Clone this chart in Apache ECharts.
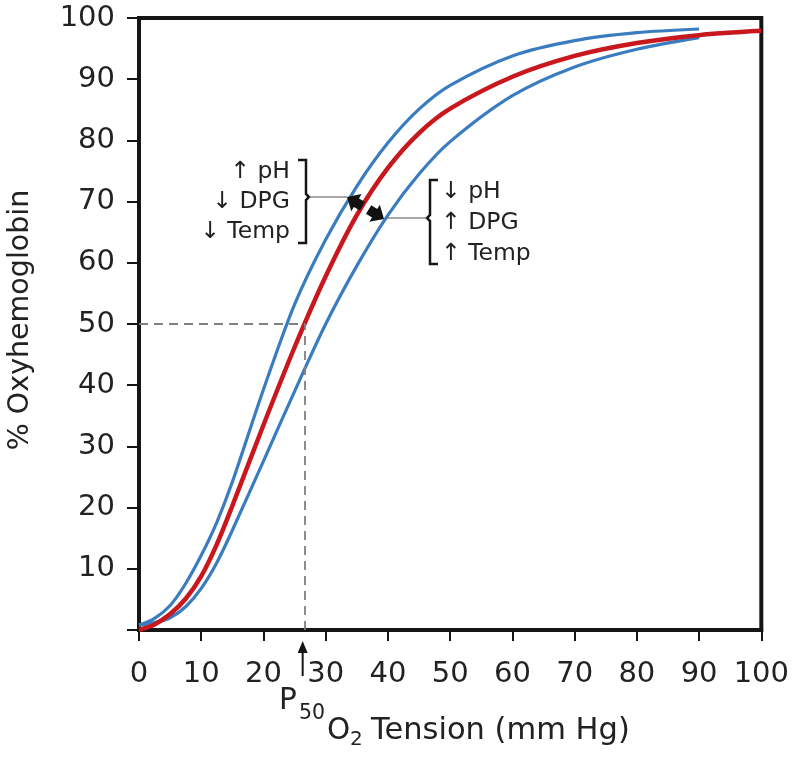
<!DOCTYPE html>
<html><head><meta charset="utf-8">
<script src="https://cdn.jsdelivr.net/npm/echarts@6/dist/echarts.min.js"></script>
<style>html,body{margin:0;padding:0;background:#fff}#c{width:792px;height:758px}</style>
</head><body><div id="c"></div>
<script>
// ---- data ----
const pO2Normal      = [0, 2.5, 5, 7.5, 10, 12.5, 15, 20, 25, 30, 35, 40, 45, 50, 60, 70, 80, 90, 100];
const satNormal      = [0, 0.9, 2.6, 5.1, 8.8, 14, 20.3, 33.5, 46.2, 57.8, 67.8, 75.5, 81.2, 85.2, 90.4, 93.8, 95.9, 97.2, 97.9];
const pO2Shifted     = [0, 2.5, 5, 7.5, 10, 12.5, 15, 20, 25, 30, 35, 40, 45, 50, 60, 70, 80, 90];
const satLeftShift   = [0.8, 1.9, 4.0, 7.6, 12.2, 17.6, 24.2, 39.3, 53.2, 63.8, 72.5, 79.6, 85.1, 89, 93.8, 96.3, 97.6, 98.2];
const satRightShift  = [0.8, 1.2, 2.0, 3.8, 6.8, 11, 16.3, 27.6, 39, 50, 59.5, 67.8, 74.5, 79.8, 87.3, 92.0, 94.9, 96.8];
const p50 = 26.7, halfSat = 50;
const xTickLabels = ['0','10','20','30','40','50','60','70','80','90','100'];
const yTickLabels = ['','10','20','30','40','50','60','70','80','90','100'];
const leftNotes  = ['\u2191 pH', '\u2193 DPG', '\u2193 Temp'];
const rightNotes = ['\u2193 pH', '\u2191 DPG', '\u2191 Temp'];

const FONT = '"DejaVu Sans", "Liberation Sans", Arial, sans-serif';
const pair = (xs, ys) => xs.map((x, i) => [x, ys[i]]);

const chart = echarts.init(document.getElementById('c'), null, {renderer: 'canvas'});
const option = {
  animation: false,
  grid: {left: 139, right: 28, top: 18, bottom: 128, show: true, borderColor: '#151515', borderWidth: 4},
  xAxis: {
    type: 'value', min: 0, max: 100, interval: 10,
    axisLine: {show: true, onZero: false, lineStyle: {color: '#151515', width: 4}},
    axisTick: {show: true, length: 11, lineStyle: {color: '#151515', width: 2}},
    axisLabel: {margin: 30, fontSize: 29, color: '#222', fontFamily: FONT,
      formatter: v => xTickLabels[Math.round(v / 10)]},
    splitLine: {show: false}
  },
  yAxis: {
    type: 'value', min: 0, max: 100, interval: 10,
    axisLine: {show: true, onZero: false, lineStyle: {color: '#151515', width: 4}},
    axisTick: {show: true, length: 12, lineStyle: {color: '#151515', width: 2}},
    axisLabel: {margin: 24, fontSize: 29, color: '#222', fontFamily: FONT,
      formatter: v => yTickLabels[Math.round(v / 10)]},
    splitLine: {show: false}
  },
  series: [
    {type: 'line', data: pair(pO2Shifted, satLeftShift), smooth: 0.3, symbol: 'none',
     lineStyle: {color: '#3a7cc0', width: 3.2, cap: 'butt'}, z: 3},
    {type: 'line', data: pair(pO2Shifted, satRightShift), smooth: 0.3, symbol: 'none',
     lineStyle: {color: '#3a7cc0', width: 3.2, cap: 'butt'}, z: 3},
    {type: 'line', data: pair(pO2Normal, satNormal), smooth: 0.3, symbol: 'none',
     lineStyle: {color: '#c9171e', width: 4.5, cap: 'butt'}, z: 4,
     markLine: {silent: true, symbol: ['none', 'none'], label: {show: false},
       lineStyle: {type: [9, 6], color: '#808080', width: 1.8},
       data: [[{coord: [0, halfSat]}, {coord: [p50, halfSat]}], [{coord: [p50, 0]}, {coord: [p50, halfSat]}]]}}
  ]
};
chart.setOption(option);

const px = chart.convertToPixel({xAxisIndex: 0}, p50);
const ax = px - 2.5;
const arrowShape = [[0,0],[-11,-10],[-11,-5],[-18,-5],[-18,5],[-11,5],[-11,10]];
const txt = (x, y, s, size, align, extra) => Object.assign({type: 'text', x: x, y: y,
  style: {text: s, font: size + 'px ' + FONT, fill: '#222', align: align || 'left', verticalAlign: 'middle'}}, extra || {});
const graphics = [
  // y axis name
  txt(21, 320, '% Oxyhemoglobin', 28.5, 'center', {rotation: Math.PI / 2}),
  // x axis name with subscript
  txt(327, 731, 'O', 29.5, 'left'),
  txt(350, 740, '2', 20, 'left'),
  txt(371, 731, 'Tension (mm Hg)', 30.5, 'left'),
  // P50
  txt(279, 701, 'P', 29.5, 'left'),
  txt(299, 714, '50', 20.5, 'left'),
  {type: 'line', shape: {x1: ax, y1: 676, x2: ax, y2: 648}, style: {stroke: '#151515', lineWidth: 2}},
  {type: 'polygon', shape: {points: [[ax, 641], [ax - 5, 653], [ax + 5, 653]]}, style: {fill: '#151515'}},
  // left bracket notes
  txt(290, 172, leftNotes[0], 23.5, 'right'),
  txt(290, 202, leftNotes[1], 23.5, 'right'),
  txt(290, 232, leftNotes[2], 23.5, 'right'),
  {type: 'polyline', shape: {points: [[298,160],[306,160],[306,194],[309,197],[306,200],[306,243],[298,243]]},
   style: {stroke: '#151515', lineWidth: 2.5, fill: null}},
  {type: 'line', shape: {x1: 309, y1: 197, x2: 347, y2: 197}, style: {stroke: '#555', lineWidth: 1.2}},
  // right bracket notes
  txt(441, 192, rightNotes[0], 23.5, 'left'),
  txt(441, 223, rightNotes[1], 23.5, 'left'),
  txt(441, 254, rightNotes[2], 23.5, 'left'),
  {type: 'polyline', shape: {points: [[438,180],[430,180],[430,215],[427,218],[430,221],[430,264],[438,264]]},
   style: {stroke: '#151515', lineWidth: 2.5, fill: null}},
  {type: 'line', shape: {x1: 386, y1: 218, x2: 427, y2: 218}, style: {stroke: '#555', lineWidth: 1.2}},
  // double arrows between curves
  {type: 'polygon', x: 347, y: 197, rotation: 2.6, shape: {points: arrowShape}, style: {fill: '#111'}, z: 10},
  {type: 'polygon', x: 384, y: 219, rotation: -0.55, shape: {points: arrowShape}, style: {fill: '#111'}, z: 10}
];
chart.setOption({graphic: graphics});
</script>
</body></html>
